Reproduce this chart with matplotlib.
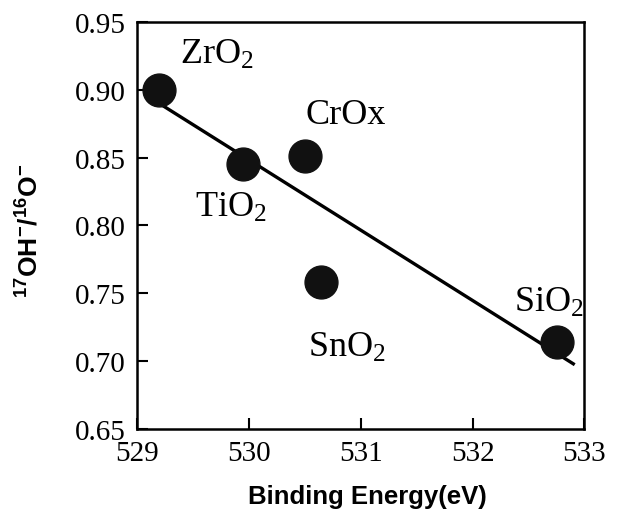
import matplotlib
matplotlib.use("Agg")
import matplotlib.pyplot as plt

# oxide binding energies vs isotope ratio
oxides = ["ZrO$_2$", "TiO$_2$", "CrOx", "SnO$_2$", "SiO$_2$"]
energy = [529.2, 529.95, 530.5, 530.65, 532.75]
ratio = [0.900, 0.845, 0.851, 0.758, 0.714]

# straight-line trend as drawn in the figure
fit_x = [529.2, 532.9]
fit_y = [0.890, 0.698]

x_ticks = [529, 530, 531, 532, 533]
y_ticks = [0.65, 0.70, 0.75, 0.80, 0.85, 0.90, 0.95]

# label anchor points (data coords)
label_x = [529.72, 529.84, 530.87, 530.88, 532.68]
label_y = [0.926, 0.813, 0.882, 0.710, 0.743]

plt.rcParams["mathtext.fontset"] = "custom"
plt.rcParams["mathtext.rm"] = "Liberation Serif"
plt.rcParams["mathtext.it"] = "Liberation Serif"
plt.rcParams["mathtext.bf"] = "Liberation Sans:bold"

fig = plt.figure(figsize=(6.36, 5.1), dpi=100)
ax = fig.add_axes([0.215, 0.157, 0.704, 0.798])

ax.plot(fit_x, fit_y, color="k", lw=2.4, zorder=2)
ax.scatter(energy, ratio, s=560, color="#111111", zorder=3)

for name, lx, ly in zip(oxides, label_x, label_y):
    ax.text(lx, ly, name, fontsize=26, family="Liberation Serif",
            ha="center", va="center")

ax.set_xlim(529, 533)
ax.set_ylim(0.65, 0.95)
ax.set_xticks(x_ticks)
ax.set_yticks(y_ticks)
ax.set_xticklabels([str(t) for t in x_ticks])
ax.set_yticklabels(["%.2f" % t for t in y_ticks])
ax.tick_params(direction="in", length=8, width=1.5, labelsize=21, pad=8)
for lab in ax.get_xticklabels() + ax.get_yticklabels():
    lab.set_family("Liberation Serif")
for sp in ax.spines.values():
    sp.set_linewidth(1.8)

ax.set_xlabel("Binding Energy(eV)", fontsize=18.5, fontweight="bold",
              family="Liberation Sans", labelpad=9)
ax.xaxis.set_label_coords(0.515, -0.135)
ax.set_ylabel(r"$\mathbf{^{17}OH^{-}/^{16}O^{-}}$", fontsize=19)
ax.yaxis.set_label_coords(-0.206, 0.49)

fig.savefig("out.png", dpi=100)
